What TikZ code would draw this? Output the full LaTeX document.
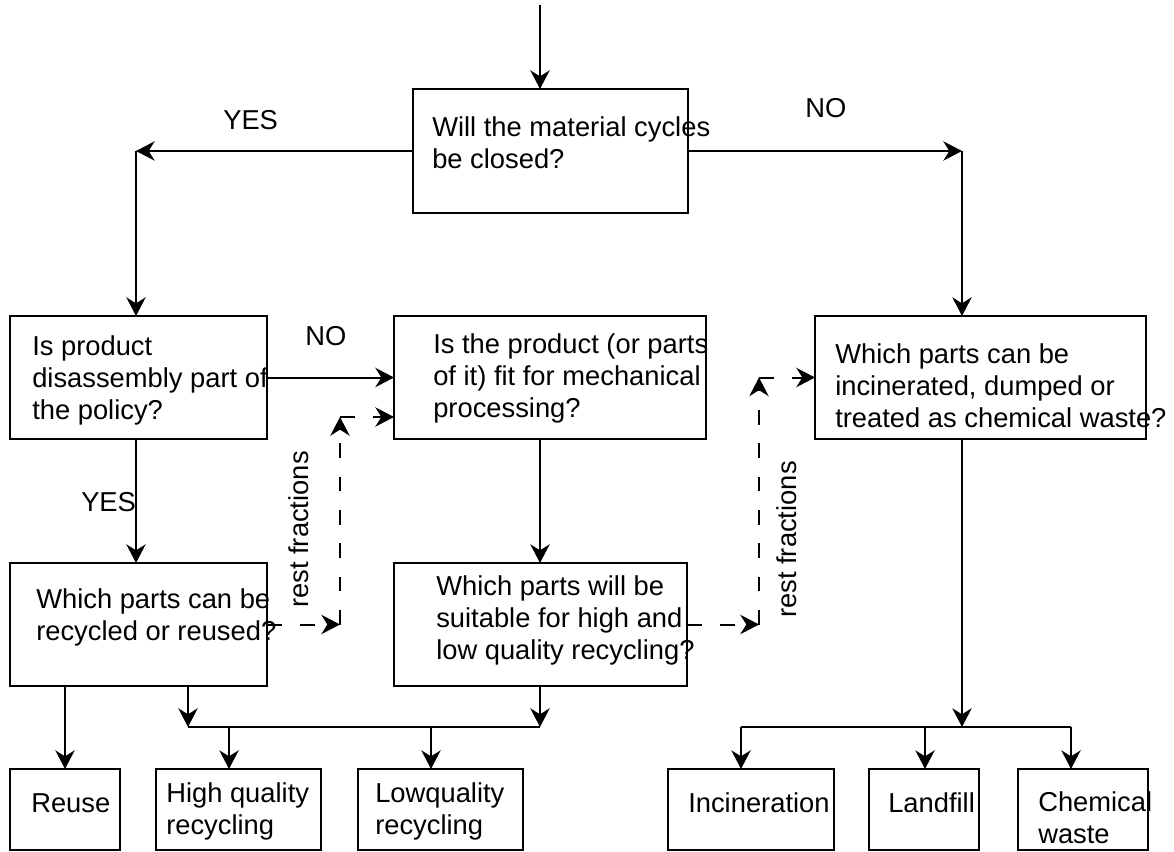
\documentclass[tikz,border=0pt]{standalone}
\usepackage{fontspec}
\setmainfont{Liberation Sans}
\usetikzlibrary{arrows.meta}
\tikzset{
  box/.style={draw, line width=1.5pt, inner sep=0pt, outer sep=0pt},
  txt/.style={anchor=base west, inner sep=0pt, align=left, font=\fontsize{20.5}{24}\selectfont},
  wire/.style={line width=1.5pt},
  arr/.style={wire, -{Stealth[length=14pt,width=14.5pt,inset=4.5pt]}},
  dsh/.style={arr, dash pattern=on 11pt off 14pt},
}
\begin{document}
\begin{tikzpicture}[x=0.75pt,y=0.75pt,yscale=-1,xscale=1]
    \useasboundingbox (0,0) rectangle (1174,852);

    %Shape: Rectangle [question boxes]
    \node[box, minimum width=206.25pt, minimum height=93pt] (closed) at (550.5,151) {};
    \node[box, minimum width=192.75pt, minimum height=92.25pt] (disasm) at (138.5,377.5) {};
    \node[box, minimum width=234pt, minimum height=92.25pt] (mech) at (550,377.5) {};
    \node[box, minimum width=248.25pt, minimum height=92.25pt] (waste) at (980.5,377.5) {};
    \node[box, minimum width=192.75pt, minimum height=92.25pt] (recyc) at (138.5,624.5) {};
    \node[box, minimum width=219.75pt, minimum height=92.25pt] (quality) at (540.5,624.5) {};
    %Shape: Rectangle [end boxes]
    \node[box, minimum width=82.5pt, minimum height=60.75pt] (reusebox) at (65,809.5) {};
    \node[box, minimum width=123.75pt, minimum height=60.75pt] (hqbox) at (238.5,809.5) {};
    \node[box, minimum width=123.75pt, minimum height=60.75pt] (lqbox) at (440.5,809.5) {};
    \node[box, minimum width=124.5pt, minimum height=60.75pt] (incbox) at (751,809.5) {};
    \node[box, minimum width=82.5pt, minimum height=60.75pt] (landbox) at (924,809.5) {};
    \node[box, minimum width=97.5pt, minimum height=60.75pt] (chembox) at (1083,809.5) {};

    % Text Node (placed at the baseline of the last line)
    \node[txt] (tclosed) at (432,169) {Will the material cycles\\be closed?};
    \node[txt] (tdisasm) at (32,419) {Is product\\disassembly part of\\the policy?};
    \node[txt] (tmech) at (433,417) {Is the product (or parts\\of it) fit for mechanical\\processing?};
    \node[txt] (twaste) at (835,427) {Which parts can be\\incinerated, dumped or\\treated as chemical waste?};
    \node[txt] (trecyc) at (36,640) {Which parts can be\\recycled or reused?};
    \node[txt] (tquality) at (436,659) {Which parts will be\\suitable for high and\\low quality recycling?};
    % Text Node
    \node[txt] (treuse) at (31,812) {Reuse};
    \node[txt] (thq) at (166,834) {High quality\\recycling};
    \node[txt] (tlq) at (375,834) {Lowquality\\recycling};
    \node[txt] (tinc) at (688,812) {Incineration};
    \node[txt] (tland) at (888,812) {Landfill};
    \node[txt] (tchem) at (1038,843) {Chemical\\waste};
    % Text Node
    \node[txt] (yes1) at (223,130) {YES};
    \node[txt] (no1) at (805,118) {NO};
    \node[txt] (no2) at (305,345) {NO};
    \node[txt] (yes2) at (81,511) {YES};
    \node[txt, rotate=90] (rest1) at (308,608) {rest fractions};
    \node[txt, rotate=90] (rest2) at (796,618) {rest fractions};

    % Connectors
    \coordinate (start) at (540,5);
    \coordinate (yesc) at (136,151);
    \coordinate (noc) at (962,151);
    \draw[arr] (start) -- (start |- closed.north);
    \draw[arr] (closed.west) -- (yesc);
    \draw[arr] (yesc) -- (yesc |- disasm.north);
    \draw[arr] (closed.east) -- (noc);
    \draw[arr] (noc) -- (noc |- waste.north);
    \draw[arr] (disasm.east) -- (mech.west);
    \draw[arr] (yesc |- disasm.south) -- (yesc |- recyc.north);
    \draw[arr] (start |- mech.south) -- (start |- quality.north);

    % recycling bus
    \coordinate (lbus) at (188,727);
    \coordinate (rbus) at (540,727);
    \coordinate (hq) at (229,727);
    \coordinate (lq) at (431,727);
    \draw[arr] (63,686 -| reusebox.north) -- (reusebox.north);
    \draw[arr] (lbus |- recyc.south) -- (lbus);
    \draw[arr] (rbus |- quality.south) -- (rbus);
    \draw[wire] (lbus) -- (rbus);
    \draw[arr] (hq) -- (hq |- hqbox.north);
    \draw[arr] (lq) -- (lq |- lqbox.north);

    % waste bus
    \coordinate (wbus) at (962,727);
    \coordinate (inc) at (741,727);
    \coordinate (land) at (925,727);
    \coordinate (chem) at (1071,727);
    \draw[arr] (noc |- waste.south) -- (wbus);
    \draw[wire] (inc) -- (chem);
    \draw[arr] (inc) -- (inc |- incbox.north);
    \draw[arr] (land) -- (land |- landbox.north);
    \draw[arr] (chem) -- (chem |- chembox.north);

    % rest fractions
    \coordinate (d1) at (340,624.5);
    \coordinate (d2) at (340,417);
    \coordinate (d3) at (759,624.5);
    \coordinate (d4) at (759,377.5);
    \draw[dsh] (recyc.east) -- (d1);
    \draw[dsh] (d1) -- (d2);
    \draw[dsh] (d2) -- (d2 -| mech.west);
    \draw[dsh] (quality.east) -- (d3);
    \draw[dsh] (d3) -- (d4);
    \draw[dsh] (d4) -- (waste.west);

\end{tikzpicture}
\end{document}
